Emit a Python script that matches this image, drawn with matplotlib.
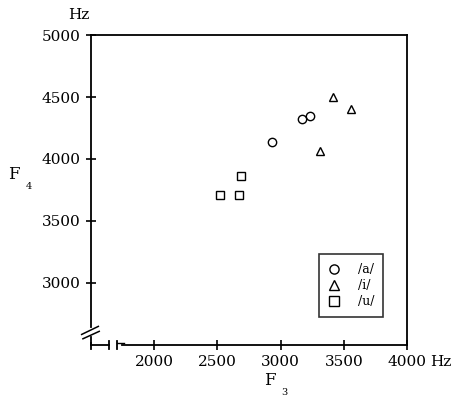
import matplotlib
matplotlib.use("Agg")
import matplotlib.pyplot as plt

# F3 / F4 values (Hz) per vowel
a_f3 = [2932, 3172, 3233]
a_f4 = [4135, 4323, 4344]
i_f3 = [3314, 3417, 3554]
i_f4 = [4064, 4497, 4403]
u_f3 = [2521, 2668, 2687]
u_f4 = [3707, 3710, 3865]

xticks = [2000, 2500, 3000, 3500, 4000]
yticks = [3000, 3500, 4000, 4500, 5000]

plt.rcParams["font.family"] = "DejaVu Serif"

fig = plt.figure(figsize=(4.62, 4.01), dpi=100)
ax = fig.add_axes([0.197, 0.1397, 0.684, 0.773])

mk = dict(linestyle="none", markerfacecolor="none", markeredgecolor="black",
          markeredgewidth=1.0, color="black")
ax.plot(a_f3, a_f4, marker="o", markersize=6, label="/a/", **mk)
ax.plot(i_f3, i_f4, marker="^", markersize=6, label="/i/", **mk)
ax.plot(u_f3, u_f4, marker="s", markersize=6, label="/u/", **mk)

ax.set_xlim(1500, 4000)
ax.set_ylim(2500, 5000)
ax.set_xticks(xticks)
ax.set_yticks(yticks)
ax.tick_params(direction="inout", length=7, width=1.2, labelsize=11, pad=4)

# broken axes drawn by hand
ax.spines["left"].set_visible(False)
ax.spines["bottom"].set_visible(False)
for s in ["top", "right"]:
    ax.spines[s].set_linewidth(1.3)
lk = dict(color="black", lw=1.3, clip_on=False)
ax.plot([1500, 1500], [2645, 5000], **lk)
ax.plot([1500, 1500], [2500, 2565], **lk)
ax.plot([1426, 1558], [2585, 2650], color="black", lw=1.1, clip_on=False)
ax.plot([1436, 1565], [2550, 2610], color="black", lw=1.1, clip_on=False)
ax.plot([1500, 1645], [2500, 2500], **lk)
ax.plot([1645, 1645], [2470, 2530], **lk)
ax.plot([1708, 1708], [2470, 2530], **lk)
ax.plot([1708, 1760], [2520, 2520], color="black", lw=1.0, clip_on=False)
ax.plot([1745, 4000], [2500, 2500], **lk)
ax.plot([1500, 1500], [2470, 2520], **lk)

leg = ax.legend(loc="lower right", bbox_to_anchor=(0.945, 0.07), fontsize=9,
                frameon=True, fancybox=False, edgecolor="black",
                handletextpad=1.4, borderpad=0.7, labelspacing=0.25,
                handlelength=1.0, markerscale=1.1)
leg.get_frame().set_linewidth(1.2)

fig.text(0.147, 0.962, "Hz", fontsize=11, ha="left", va="center")
fig.text(0.932, 0.097, "Hz", fontsize=11, ha="left", va="center")
fig.text(0.018, 0.565, "F", fontsize=12, ha="left", va="center")
fig.text(0.056, 0.535, "4", fontsize=7, ha="left", va="center")
fig.text(0.572, 0.05, "F", fontsize=12, ha="left", va="center")
fig.text(0.608, 0.022, "3", fontsize=7, ha="left", va="center")

fig.savefig("out.png", dpi=100)
